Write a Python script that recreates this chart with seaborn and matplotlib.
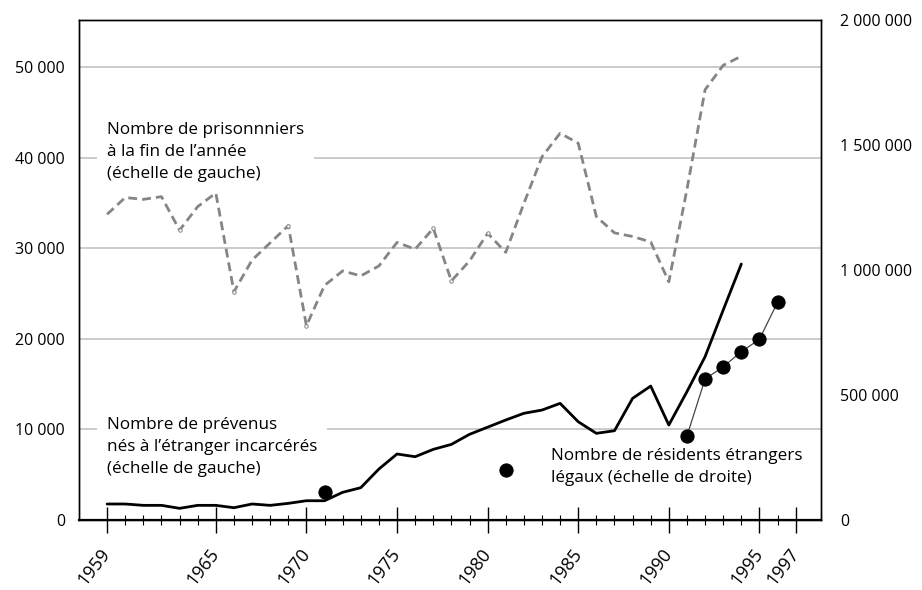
import numpy as np
import pandas as pd
import matplotlib
matplotlib.use("Agg")
import matplotlib.pyplot as plt
import seaborn as sns

# ---------------- data ----------------
years_prison = list(range(1959, 1995))
prisoners = [33750, 35600, 35400, 35700, 32000, 34600, 36100, 25200, 28700, 30600,
             32500, 21450, 25900, 27500, 26950, 28050, 30650, 29900, 32200, 26400,
             28600, 31650, 29550, 34950, 40100, 42700, 41600, 33500, 31700, 31300,
             30700, 26300, 36500, 47500, 50200, 51200]

years_prev = list(range(1959, 1995))
prevenus = [1770, 1770, 1620, 1620, 1290, 1620, 1620, 1360, 1770, 1620,
            1840, 2130, 2130, 3060, 3570, 5630, 7290, 6990, 7800, 8350,
            9460, 10250, 11040, 11780, 12140, 12880, 10850, 9570, 9860, 13430,
            14790, 10490, 14170, 18030, 23180, 28260]

years_census = [1971, 1981]
residents_census = [113000, 200000]
years_res = [1991, 1992, 1993, 1994, 1995, 1996]
residents = [336000, 564000, 613000, 673000, 723000, 871000]

left_ticks = [0, 10000, 20000, 30000, 40000, 50000]
left_labels = ["0", "10 000", "20 000", "30 000", "40 000", "50 000"]
right_ticks = [0, 500000, 1000000, 1500000, 2000000]
right_labels = ["0", "500 000", "1 000 000", "1 500 000", "2 000 000"]
major_years = [1959, 1965, 1970, 1975, 1980, 1985, 1990, 1995, 1997]

label_prison = "Nombre de prisonnniers\nà la fin de l\u2019année\n(échelle de gauche)"
label_prev = "Nombre de prévenus\nnés à l\u2019étranger incarcérés\n(échelle de gauche)"
label_res = "Nombre de résidents étrangers\nlégaux (échelle de droite)"

# ---------------- style ----------------
sns.set_style("white")
plt.rcParams['font.family'] = ['Open Sans', 'DejaVu Sans']
plt.rcParams['axes.linewidth'] = 1.0
plt.rcParams['text.color'] = 'black'
plt.rcParams['xtick.color'] = 'black'
plt.rcParams['ytick.color'] = 'black'

fig = plt.figure(figsize=(9.22, 5.90), dpi=100)
ax = fig.add_axes([0.0857, 0.1186, 0.8048, 0.8475])

df_p = pd.DataFrame({"year": years_prison, "value": prisoners})
df_v = pd.DataFrame({"year": years_prev, "value": prevenus})

sns.lineplot(data=df_p, x="year", y="value", ax=ax, color="#858585", lw=2.0,
             linestyle=(0, (3.2, 1.8)), marker="o", markersize=2.5,
             markerfacecolor="white", markeredgecolor="#858585", markeredgewidth=0.7,
             markevery=[4, 7, 10, 11, 18, 19, 21], zorder=3)
sns.lineplot(data=df_v, x="year", y="value", ax=ax, color="black", lw=2.0, zorder=3)

ax.set_xlim(1957.45, 1998.4)
ax.set_ylim(0, 55200)
ax.set_yticks(left_ticks)
ax.set_yticklabels(left_labels)
ax.yaxis.grid(True, color="#bdbdbd", lw=1.1)
ax.set_axisbelow(True)
ax.tick_params(axis="y", length=0, pad=10, labelsize=11.5, colors="black")

ax.set_xticks(major_years)
ax.set_xticklabels([str(y) for y in major_years], rotation=52, ha="right",
                   va="center", rotation_mode="anchor")
ax.set_xticks(list(range(1959, 1998)), minor=True)
ax.tick_params(axis="x", which="both", bottom=True, color="black")
ax.tick_params(axis="x", which="major", direction="inout", length=18.5, width=1.0,
               pad=13, labelsize=13, labelcolor="black")
ax.tick_params(axis="x", which="minor", direction="inout", length=7.5, width=0.8)
ax.set_xlabel("")
ax.set_ylabel("")
for s in ax.spines.values():
    s.set_color("black")
    s.set_visible(True)
ax.spines["bottom"].set_linewidth(1.6)

# right axis
ax2 = ax.twinx()
df_c = pd.DataFrame({"year": years_census, "value": residents_census})
df_r = pd.DataFrame({"year": years_res, "value": residents})
sns.lineplot(data=df_r, x="year", y="value", ax=ax2, color="#444444", lw=0.9, zorder=2)
sns.scatterplot(data=df_r, x="year", y="value", ax=ax2, color="black", s=90,
                edgecolor="black", zorder=4)
sns.scatterplot(data=df_c, x="year", y="value", ax=ax2, color="black", s=90,
                edgecolor="black", zorder=4)
ax2.set_ylim(0, 2000000)
ax2.set_yticks(right_ticks)
ax2.set_yticklabels(right_labels)
ax2.tick_params(axis="y", length=0, pad=14, labelsize=11.5, colors="black")
ax2.set_xlabel("")
ax2.set_ylabel("")
for s in ax2.spines.values():
    s.set_color("black")

# annotations (bbox hides grid lines but sits below the data lines)
bb = dict(facecolor="white", edgecolor="none", pad=7)
ax.text(1959, 43950, label_prison, fontsize=12.3, ha="left", va="top",
        linespacing=1.5, bbox=bb, zorder=2)
ax.text(1959, 11340, label_prev, fontsize=12.3, ha="left", va="top",
        linespacing=1.5, bbox=bb, zorder=2)
ax.text(1983.5, 7950, label_res, fontsize=12.3, ha="left", va="top",
        linespacing=1.5, bbox=bb, zorder=2)

fig.savefig("out.png", dpi=100)
